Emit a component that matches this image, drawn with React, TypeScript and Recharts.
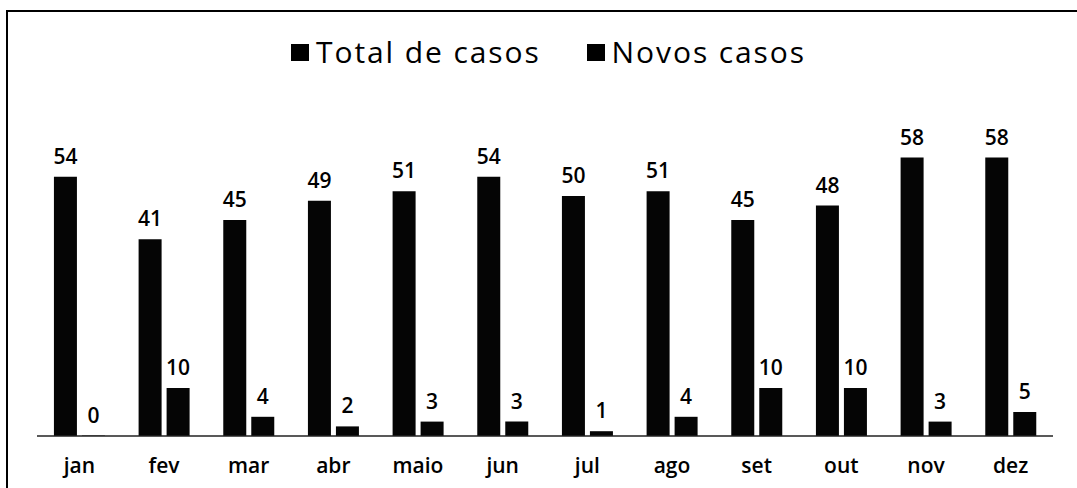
import React from "react";
import { BarChart, Bar, XAxis, YAxis, Legend, LabelList } from "recharts";

const months = ["jan", "fev", "mar", "abr", "maio", "jun", "jul", "ago", "set", "out", "nov", "dez"];
const totalCases = [54, 41, 45, 49, 51, 54, 50, 51, 45, 48, 58, 58];
const newCases = [0, 10, 4, 2, 3, 3, 1, 4, 10, 10, 3, 5];
const seriesNames = ["Total de casos", "Novos casos"];

const data = months.map((m, i) => ({ month: m, total: totalCases[i], novos: newCases[i] }));

const FONT = "'Open Sans', sans-serif";

const renderLegend = () => (
  <div
    style={{
      height: 120,
      width: 1069,
      boxSizing: "border-box",
      paddingLeft: 12,
    }}
  >
    <div
      style={{
        height: 48,
        display: "flex",
        justifyContent: "center",
        alignItems: "center",
        gap: 46,
        fontFamily: FONT,
        fontSize: 30,
        fontWeight: 500,
        letterSpacing: 1.9,
        color: "#000",
      }}
    >
      {seriesNames.map((n) => (
        <div key={n} style={{ display: "flex", alignItems: "center" }}>
          <span style={{ display: "inline-block", width: 18, height: 17, background: "#000", marginRight: 7 }} />
          <span style={{ lineHeight: "48px" }}>{n}</span>
        </div>
      ))}
    </div>
  </div>
);

export default function App() {
  return (
    <div style={{ position: "relative", width: 1077, height: 488, overflow: "hidden", background: "#fff" }}>
      <style>{"html,body{margin:0;padding:0;overflow:hidden;}"}</style>
      <div
        style={{
          position: "absolute",
          left: 6,
          top: 10,
          width: 1100,
          height: 500,
          boxSizing: "border-box",
          borderLeft: "2px solid #000",
          borderTop: "2px solid #000",
        }}
      />
      <div style={{ position: "absolute", left: 8, top: 8, width: 1069, height: 480 }}>
        <BarChart
          width={1069}
          height={480}
          data={data}
          margin={{ top: 20, right: 24, left: 29, bottom: 22 }}
          barCategoryGap="20%"
          barGap={5}
        >
          <XAxis
            dataKey="month"
            axisLine={{ stroke: "#222", strokeWidth: 1.5 }}
            tickLine={false}
            tickMargin={16}
            tick={{ fill: "#000", fontSize: 21, fontWeight: 600, fontFamily: FONT }}
            interval={0}
          />
          <YAxis hide domain={[0, 60]} />
          <Legend
            verticalAlign="top"
            align="center"
            content={renderLegend}
            wrapperStyle={{ left: 0, width: 1069 }}
          />
          <Bar dataKey="total" name={seriesNames[0]} fill="#050505" isAnimationActive={false}>
            <LabelList dataKey="total" position="top" offset={13} fill="#000" fontSize={21} fontWeight={600} fontFamily={FONT} />
          </Bar>
          <Bar dataKey="novos" name={seriesNames[1]} fill="#050505" minPointSize={0.5} isAnimationActive={false}>
            <LabelList dataKey="novos" position="top" offset={13} fill="#000" fontSize={21} fontWeight={600} fontFamily={FONT} />
          </Bar>
        </BarChart>
      </div>
    </div>
  );
}
